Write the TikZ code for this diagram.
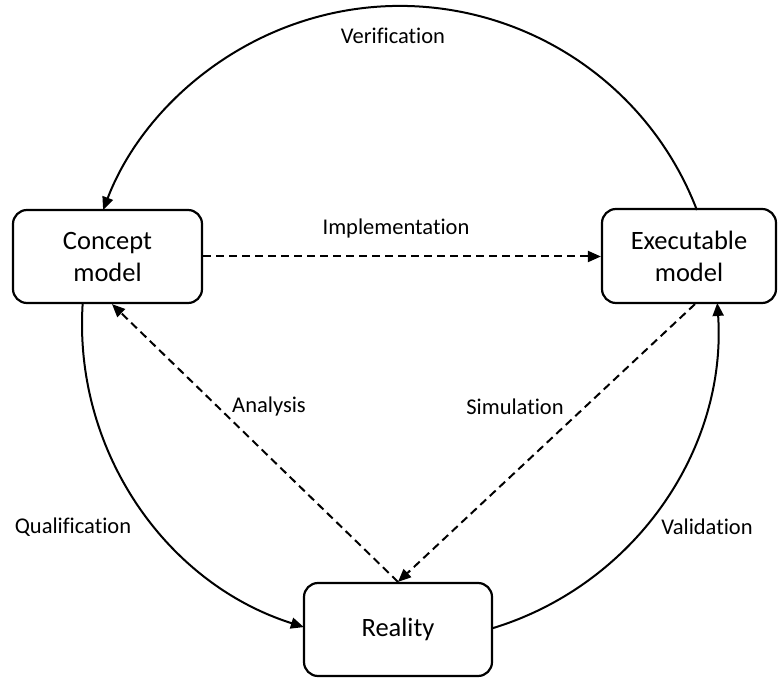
\documentclass[tikz,border=0pt]{standalone}
\usepackage{fontspec}
\setmainfont{Carlito}[Ligatures={NoCommon,NoContextual}]
\usetikzlibrary{arrows.meta,calc}
\begin{document}
\begin{tikzpicture}[x=1pt,y=1pt,
  box/.style={draw,line width=2.2pt,rounded corners=14pt,align=center,
    font=\fontsize{26.5}{32}\selectfont,inner sep=0pt},
  lbl/.style={font=\fontsize{22.5}{27}\selectfont,inner sep=0pt},
  tip/.style={-{Triangle[length=13pt,width=11pt]}},
  cycle/.style={tip,line width=2pt},
  flow/.style={tip,line width=2pt,dash pattern=on 8pt off 5pt}]
\useasboundingbox (0,0) rectangle (778,677);

% the three states
\node[box,minimum width=189pt,minimum height=93pt] (concept) at (107.5,420.5) {Concept\\model};
\node[box,minimum width=174pt,minimum height=94pt] (exec) at (689,421) {Executable\\model};
\node[box,minimum width=188pt,minimum height=93pt] (reality) at (398,47.5) {Reality};

% the outer cycle lies on one circle
\coordinate (ctr) at (400,353);
\coordinate (v0) at ($(ctr)+(21:318)$);
\coordinate (q0) at ($(ctr)+(176.2:318)$);
\coordinate (w0) at ($(ctr)+(-73.2:318)$);

\draw[cycle] (v0) arc[start angle=21,end angle=159,radius=318];
\draw[cycle] (q0) arc[start angle=176.2,end angle=252.4,radius=318];
\draw[cycle] (w0) arc[start angle=-73.2,end angle=3.8,radius=318];

% inner transformations
\draw[flow] (concept.east) -- (concept.east -| exec.west);
\draw[flow] (reality.north) -- ([xshift=4.5pt]concept.south);
\draw[flow] ([xshift=6pt]exec.south) -- (reality.north);

% labels
\node[lbl] (lv) at (393,641) {Verification};
\node[lbl] (li) at (396,448) {Implementation};
\node[lbl] (la) at (269,270) {Analysis};
\node[lbl] (ls) at (515,270) {Simulation};
\node[lbl] (lq) at (73,150) {Qualification};
\node[lbl] (lva) at (707,150) {Validation};
\end{tikzpicture}
\end{document}
